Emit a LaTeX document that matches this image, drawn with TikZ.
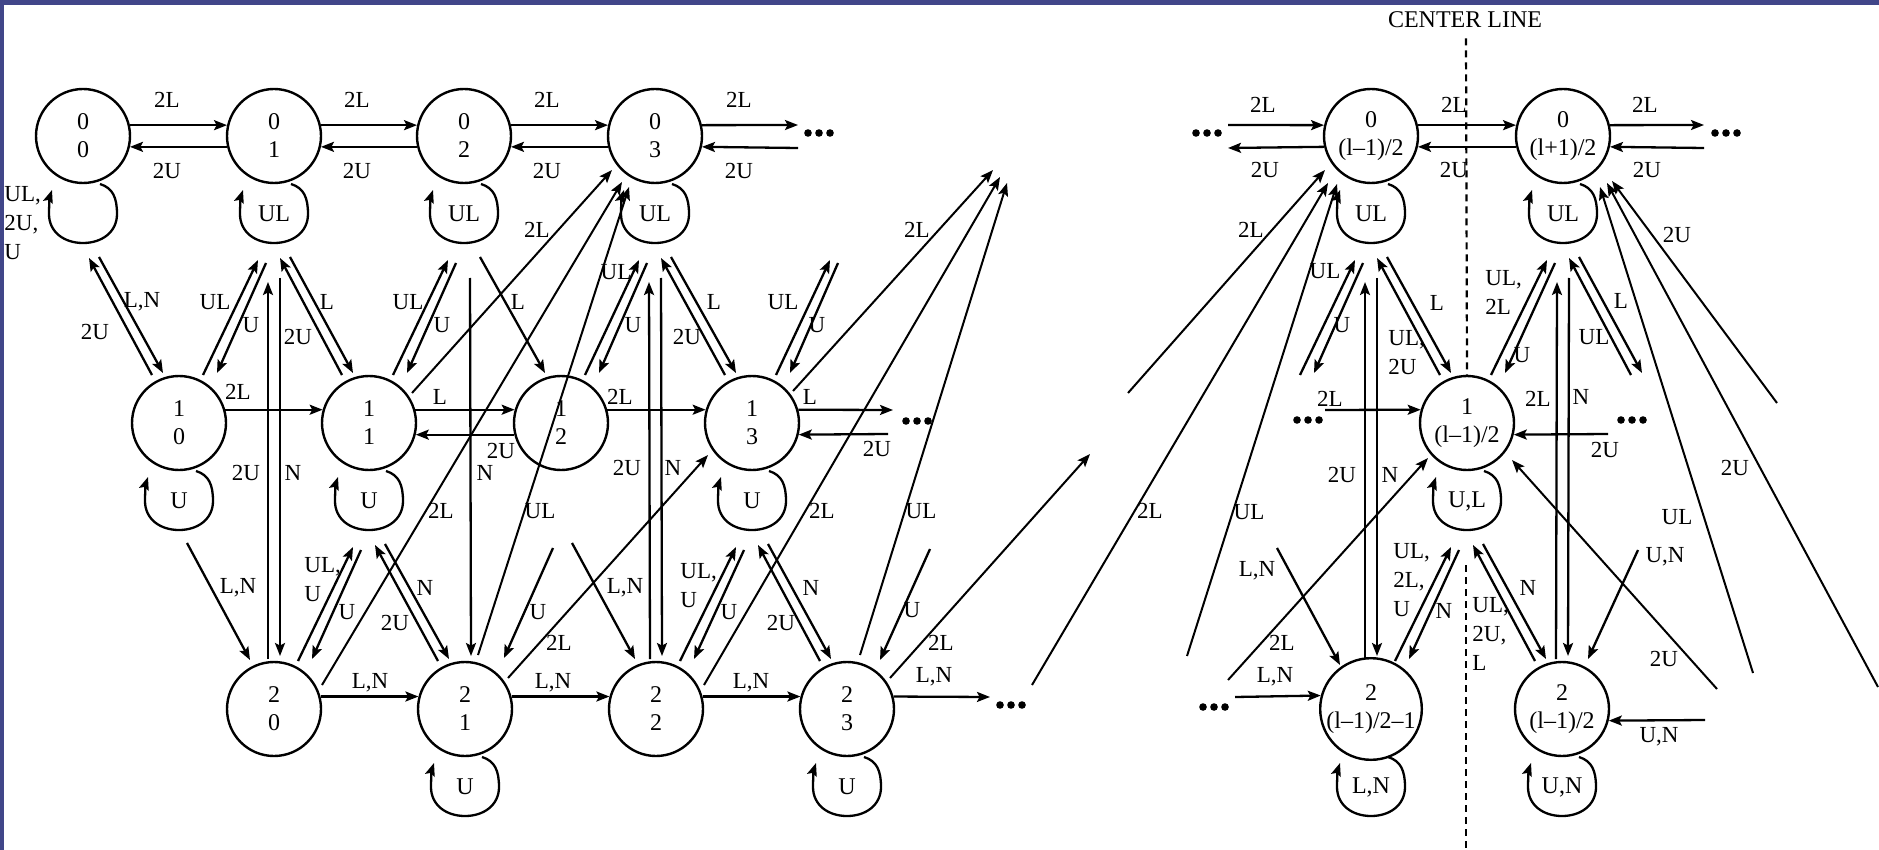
\documentclass[tikz,border=0pt]{standalone}
\usepackage{fontspec}
\setmainfont{Liberation Serif}
\usetikzlibrary{arrows.meta,calc}

\definecolor{framecol}{RGB}{65,70,137}

\tikzset{
  cell/.style={circle, draw, line width=1.2pt, minimum size=47pt, inner sep=0pt,
    align=center, font=\fontsize{12}{14}\selectfont},
  lbl/.style={inner sep=0pt, align=center, font=\fontsize{11.5}{14.5}\selectfont},
  mlbl/.style={lbl, align=left, anchor=north west},
  looplbl/.style={inner sep=0pt, font=\fontsize{12}{14}\selectfont},
  arr/.style={line width=1.15pt, -{Stealth[length=6.5pt,width=5pt,inset=1.3pt]}},
  far/.style={arr, line width=1pt},
}

% self loop under a state
\newcommand\selfloop[3]{%
  \begin{scope}[shift={(#1)}]
    \draw[arr] (17,48) .. controls (30,52) and (34,62) .. (34,78)
      .. controls (34,96) and (19,107) .. (0,107)
      .. controls (-19,107) and (-34,96) .. (-34,78)
      .. controls (-34,68) and (-33,60) .. (-31,54);
    \node[looplbl] (#2) at (0,78) {#3};
  \end{scope}}
% upper #1 to lower-right #2, both ways
\newcommand\drpair[2]{%
  \draw[arr] ($(#2)+(-27,-48)$) -- ($(#1)+(6,122)$);
  \draw[arr] ($(#1)+(16,121)$) -- ($(#2)+(-16,-50)$);}
% lower-left #1 to upper-right #2, both ways
\newcommand\urpair[2]{%
  \draw[arr] ($(#1)+(24,-48)$) -- ($(#2)+(-16,124)$);
  \draw[arr] ($(#2)+(-8,127)$) -- ($(#1)+(38,-50)$);}
% upper #1 and lower #2 straight down
\newcommand\vpair[2]{%
  \draw[arr] ($(#2)+(-6,-50)$) -- ($(#1)+(-6,146)$);
  \draw[arr] ($(#1)+(6,142)$) -- ($(#2)+(6,-53)$);}
\newcommand\tridots[1]{\foreach \dx in {-11,0,11} \fill ($(#1)+(\dx,0)$) circle[radius=3.8];}

\begin{document}
\begin{tikzpicture}[x=0.5pt, y=-0.5pt]
  \useasboundingbox (0,0) rectangle (1879,850);
  \fill[framecol] (0,0) rectangle (1879,5);
  \fill[framecol] (0,0) rectangle (4,850);

  % states
  \node[cell] (n00) at (83,136) {0\\0};
  \node[cell] (n01) at (274,136) {0\\1};
  \node[cell] (n02) at (464,136) {0\\2};
  \node[cell] (n03) at (655,136) {0\\3};
  \node[cell] (n0a) at (1371,136) {0\\(l–1)/2};
  \node[cell] (n0b) at (1563,136) {0\\(l+1)/2};
  \node[cell] (n10) at (179,423) {1\\0};
  \node[cell] (n11) at (369,423) {1\\1};
  \node[cell] (n12) at (561,423) {1\\2};
  \node[cell] (n13) at (752,423) {1\\3};
  \node[cell] (n1c) at (1467,423) {1\\(l–1)/2};
  \node[cell] (n20) at (274,709) {2\\0};
  \node[cell] (n21) at (465,709) {2\\1};
  \node[cell] (n22) at (656,709) {2\\2};
  \node[cell] (n23) at (847,709) {2\\3};
  \node[cell] (n2a) at (1371,709) {2\\(l–1)/2–1};
  \node[cell] (n2b) at (1562,709) {2\\(l–1)/2};

  % phantom states and free ends
  \coordinate (p04) at (846,136);
  \coordinate (p1l) at (1276,423);
  \coordinate (p1r) at (1658,423);
  \coordinate (e01) at (798,125);  \coordinate (e02) at (798,148);
  \coordinate (e03) at (1228,125); \coordinate (e04) at (1228,148);
  \coordinate (e05) at (1704,125); \coordinate (e06) at (1704,148);
  \coordinate (e11) at (893,410);  \coordinate (e12) at (888,434);
  \coordinate (e13) at (1325,410); \coordinate (e14) at (1608,434);
  \coordinate (e21) at (990,697);  \coordinate (e22) at (1235,697);
  \coordinate (e23) at (1705,720);
  \coordinate (f1) at (993,170);   \coordinate (f2) at (1000,177);
  \coordinate (f3) at (1007,183);  \coordinate (f4) at (1090,454);
  \coordinate (g1) at (1128,393);  \coordinate (g2) at (1032,685);
  \coordinate (g3) at (1187,656);  \coordinate (g4) at (1228,680);
  \coordinate (g5) at (1717,689);  \coordinate (g6) at (1753,673);
  \coordinate (g7) at (1878,687);  \coordinate (g8) at (1777,403);
  \coordinate (g9) at (1277,548);  \coordinate (g10) at (930,549);
  \coordinate (g11) at (1638,550);

  % self loops
  \selfloop{n00}{s00}{}
  \selfloop{n01}{s01}{UL}
  \selfloop{n02}{s02}{UL}
  \selfloop{n03}{s03}{UL}
  \selfloop{n0a}{s0a}{UL}
  \selfloop{n0b}{s0b}{UL}
  \selfloop{n10}{s10}{U}
  \selfloop{n11}{s11}{U}
  \selfloop{n13}{s13}{U}
  \selfloop{n1c}{s1c}{U,L}
  \selfloop{n21}{s21}{U}
  \selfloop{n23}{s23}{U}
  \selfloop{n2a}{s2a}{L,N}
  \selfloop{n2b}{s2b}{U,N}

  % row 0
  \foreach \a/\b in {n00/n01, n01/n02, n02/n03, n0a/n0b} {
    \draw[arr] (\a.13) -- (\b.167);
    \draw[arr] (\b.193) -- (\a.347);
  }
  \draw[arr] (n03.13) -- (e01);
  \draw[arr] (e02) -- (n03.347);
  \draw[arr] (e03) -- (n0a.167);
  \draw[arr] (n0a.193) -- (e04);
  \draw[arr] (n0b.13) -- (e05);
  \draw[arr] (e06) -- (n0b.347);

  % row 1
  \draw[arr] (n10.16) -- (n11.164);
  \draw[arr] (n11.16) -- (n12.164);
  \draw[arr] (n12.194) -- (n11.346);
  \draw[arr] (n12.16) -- (n13.164);
  \draw[arr] (n13.16) -- (e11);
  \draw[arr] (e12) -- (n13.346);
  \draw[arr] (e13) -- (n1c.164);
  \draw[arr] (e14) -- (n1c.346);

  % row 2
  \draw[arr] (n20.15) -- (n21.165);
  \draw[arr] (n21.15) -- (n22.165);
  \draw[arr] (n22.15) -- (n23.165);
  \draw[arr] (n23.15) -- (e21);
  \draw[arr] (e22) -- (n2a.165);
  \draw[arr] (e23) -- (n2b.346);

  % between rows 0 and 1
  \drpair{n00}{n10}
  \urpair{n10}{n01}
  \drpair{n01}{n11}
  \urpair{n11}{n02}
  \draw[arr] ($(n02)+(16,121)$) -- ($(n12)+(-16,-50)$);
  \urpair{n12}{n03}
  \drpair{n03}{n13}
  \urpair{n13}{p04}
  \urpair{p1l}{n0a}
  \drpair{n0a}{n1c}
  \urpair{n1c}{n0b}
  \drpair{n0b}{p1r}

  % between rows 1 and 2
  \draw[arr] ($(n10)+(8,120)$) -- ($(n20)+(-24,-49)$);
  \urpair{n20}{n11}
  \drpair{n11}{n21}
  \draw[arr] ($(n12)+(-8,125)$) -- ($(n21)+(39,-51)$);
  \draw[arr] ($(n12)+(11,120)$) -- ($(n22)+(-21,-50)$);
  \urpair{n22}{n13}
  \drpair{n13}{n23}
  \draw[arr] (g10) -- ($(n23)+(33,-49)$);
  \draw[arr] (g9) -- ($(n2a)+(-31,-44)$);
  \urpair{n2a}{n1c}
  \drpair{n1c}{n2b}
  \draw[arr] (g11) -- ($(n2b)+(26,-50)$);

  % rows 0 and 2
  \vpair{n01}{n20}
  \draw[arr] ($(n02)+(6,142)$) -- ($(n21)+(6,-53)$);
  \vpair{n03}{n22}
  \vpair{n0a}{n2a}
  \vpair{n0b}{n2b}

  % long jumps
  \draw[far] ($(n11)+(43,-30)$) -- ($(n03)+(-43,34)$);
  \draw[far] ($(n20)+(48,-24)$) -- ($(n03)+(-33,46)$);
  \draw[far] ($(n21)+(13,-54)$) -- ($(n03)+(-26,51)$);
  \draw[far] ($(n13)+(41,-32)$) -- (f1);
  \draw[far] ($(n22)+(48,-24)$) -- (f2);
  \draw[far] ($(n23)+(13,-54)$) -- (f3);
  \draw[far] ($(n21)+(43,-31)$) -- ($(n13)+(-44,32)$);
  \draw[far] ($(n23)+(43,-31)$) -- (f4);
  \draw[far] (g1) -- ($(n0a)+(-46,34)$);
  \draw[far] (g2) -- ($(n0a)+(-43,47)$);
  \draw[far] (g3) -- ($(n0a)+(-34,48)$);
  \draw[far] (g4) -- ($(n1c)+(-39,35)$);
  \draw[far] (g5) -- ($(n1c)+(45,37)$);
  \draw[far] (g6) -- ($(n0b)+(37,51)$);
  \draw[far] (g7) -- ($(n0b)+(44,47)$);
  \draw[far] (g8) -- ($(n0b)+(49,45)$);

  % dots
  \coordinate (d1) at (819,133);  \tridots{d1}
  \coordinate (d2) at (1207,133); \tridots{d2}
  \coordinate (d3) at (1726,133); \tridots{d3}
  \coordinate (d4) at (917,421);  \tridots{d4}
  \coordinate (d5) at (1308,420); \tridots{d5}
  \coordinate (d6) at (1632,420); \tridots{d6}
  \coordinate (d7) at (1011,705); \tridots{d7}
  \coordinate (d8) at (1214,707); \tridots{d8}

  % centre line, broken at the middle state and its loop
  \node[font=\fontsize{12}{14}\selectfont, inner sep=0pt] (cl) at (1465,20) {CENTER LINE};
  \coordinate (cmid) at (1466,565);
  \coordinate (cbot) at (1466,850);
  \draw[line width=1.1pt, dash pattern=on 3.5pt off 2.5pt] ($(cl.south)+(1,10)$) -- (n1c.north);
  \draw[line width=1.1pt, dash pattern=on 3.5pt off 2.5pt] (cmid) -- (cbot);

  % edge labels
  \foreach \x/\y/\t [count=\i] in {
      167/100/2L, 357/100/2L, 547/100/2L, 739/100/2L,
      167/171/2U, 357/171/2U, 547/171/2U, 739/171/2U,
      1263/105/2L, 1454/105/2L, 1645/105/2L,
      1265/170/2U, 1454/170/2U, 1647/170/2U,
      142/302/{L,N}, 95/332/2U, 215/302/UL, 251/325/U, 298/337/2U, 327/302/L,
      408/302/UL, 442/325/U, 518/302/L, 616/272/UL, 633/325/U, 687/337/2U,
      714/302/L, 783/302/UL, 817/325/U, 537/230/2L, 917/230/2L,
      1251/230/2L, 1325/271/UL, 1342/325/U, 1437/303/L, 1522/355/U,
      1621/301/L, 1594/337/UL, 1677/235/2U,
      238/392/2L, 440/397/L, 501/451/2U, 620/397/2L, 810/397/L, 877/449/2U,
      1330/399/2L, 1605/450/2U,
      246/473/2U, 293/473/N, 485/473/N, 627/468/2U, 673/468/N,
      1342/475/2U, 1390/475/N, 1538/399/2L, 1581/397/N,
      238/588/{L,N}, 347/612/U, 395/623/2U, 425/588/N, 538/612/U, 559/643/2L,
      625/588/{L,N}, 729/612/U, 781/623/2U, 811/588/N, 912/610/U, 941/643/2L,
      822/511/2L, 921/511/UL, 1150/511/2L, 441/511/2L, 540/511/UL,
      1249/512/UL, 1257/571/{L,N}, 1282/643/2L, 1444/611/N, 1528/588/N,
      1677/517/UL, 1665/557/{U,N}, 1664/659/2U, 1735/468/2U,
      370/683/{L,N}, 553/683/{L,N}, 751/683/{L,N}, 934/677/{L,N},
      1275/677/{L,N}, 1659/737/{U,N}}
    \node[lbl] (t\i) at (\x,\y) {\t};

  \node[mlbl] (m1) at (4,186) {UL,\\2U,\\U};
  \node[mlbl] (m2) at (304,557) {UL,\\U};
  \node[mlbl] (m3) at (680,563) {UL,\\U};
  \node[mlbl] (m4) at (1388,330) {UL,\\2U};
  \node[mlbl] (m5) at (1485,270) {UL,\\2L};
  \node[mlbl] (m6) at (1393,543) {UL,\\2L,\\U};
  \node[mlbl] (m7) at (1472,597) {UL,\\2U,\\L};
\end{tikzpicture}
\end{document}
